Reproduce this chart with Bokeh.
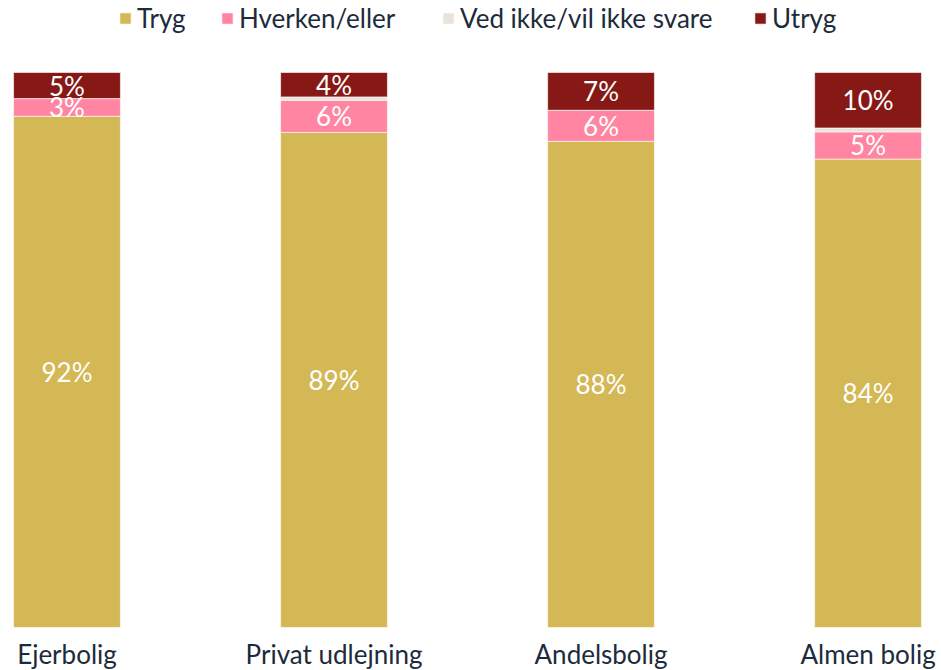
from bokeh.plotting import figure
from bokeh.models import ColumnDataSource, Legend, LegendItem, Range1d
from bokeh.embed import file_html
from bokeh.resources import INLINE
from bokeh.core.properties import value

categories = ["Ejerbolig", "Privat udlejning", "Andelsbolig", "Almen bolig"]
series = ["Tryg", "Hverken/eller", "Ved ikke/vil ikke svare", "Utryg"]
tryg = [92.1, 89.2, 87.6, 84.4]
hverken = [3.2, 5.8, 5.6, 4.9]
ved_ikke = [0.0, 0.6, 0.0, 0.7]
utryg = [4.7, 4.4, 6.8, 10.0]
colors = ["#D3B855", "#FF85A2", "#E9E3DB", "#861915"]

FONT = "Lato"
FS = "26px"
TXT = "#1C2B3C"

x = list(range(len(categories)))
keys = ["tryg", "hverken", "ved_ikke", "utryg"]
src = ColumnDataSource(dict(x=x, tryg=tryg, hverken=hverken, ved_ikke=ved_ikke, utryg=utryg))

p = figure(frame_width=941, frame_height=670, output_backend="svg", toolbar_location=None,
           x_range=Range1d(-0.249, 3.275), y_range=Range1d(-7.75, 112.97),
           x_axis_location=None, y_axis_location=None,
           min_border_left=0, min_border_right=0, min_border_top=0, min_border_bottom=0)

rs = p.vbar_stack(keys, x="x", width=0.4, color=colors, source=src,
                  line_color="white", line_width=0.6)

# value labels
lx, ly, lt = [], [], []
for i in range(len(categories)):
    base = 0.0
    for k, arr in zip(keys, [tryg, hverken, ved_ikke, utryg]):
        v = arr[i]
        if k != "ved_ikke" and v > 0:
            lx.append(x[i])
            ly.append(base + v / 2)
            lt.append(f"{round(v)}%")
        base += v
p.text(x=lx, y=ly, text=lt, text_align="center", text_baseline="middle",
       text_font=value(FONT), text_font_size=FS, text_color="white")

# category labels
p.text(x=x, y=[-4.75] * len(x), text=categories, text_align="center",
       text_baseline="middle", text_font=value(FONT), text_font_size=FS,
       text_color=TXT)

# legend: one entry per Legend to place each item like the reference
leg_x = [118, 220, 441, 753]
for s, r, lxp in zip(series, rs, leg_x):
    lg = Legend(items=[LegendItem(label=s, renderers=[r])], orientation="horizontal",
                location=(lxp, 636), padding=0, margin=0, border_line_color=None,
                background_fill_alpha=0, label_text_font=FONT, label_text_font_size=FS,
                label_text_color=TXT, glyph_width=14, glyph_height=14,
                label_standoff=5, label_height=30, spacing=0)
    p.add_layout(lg)

p.xgrid.visible = False
p.ygrid.visible = False
p.outline_line_color = None

open("out.html", "w").write(file_html(p, INLINE))
